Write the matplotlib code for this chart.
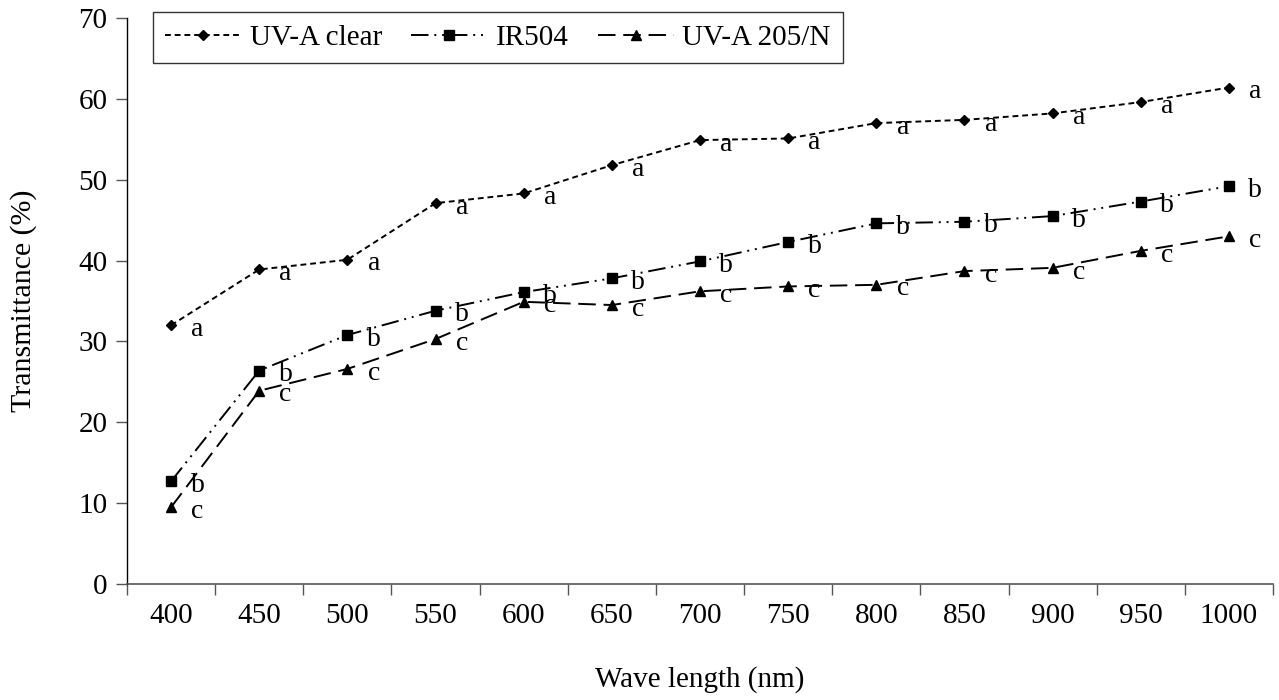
import matplotlib
matplotlib.use("Agg")
import matplotlib.pyplot as plt
from matplotlib.ticker import FixedLocator, NullFormatter

# ====== Data ======
wavelengths = ["400", "450", "500", "550", "600", "650", "700",
               "750", "800", "850", "900", "950", "1000"]

uva_clear = [32.0, 38.9, 40.1, 47.1, 48.3, 51.8, 54.9, 55.1, 57.0, 57.4, 58.2, 59.6, 61.4]
ir504 = [12.7, 26.4, 30.8, 33.8, 36.1, 37.8, 39.9, 42.3, 44.6, 44.8, 45.5, 47.3, 49.2]
uva_205n = [9.5, 23.9, 26.6, 30.3, 34.9, 34.5, 36.2, 36.8, 37.0, 38.7, 39.1, 41.2, 43.0]

letters_clear = ["a"] * 13
letters_ir = ["b"] * 13
letters_205 = ["c"] * 13

plt.rcParams["font.family"] = ["Liberation Serif", "DejaVu Serif"]

fig = plt.figure(figsize=(12.79, 7.0), dpi=100)
ax = fig.add_axes([0.0993, 0.1657, 0.8960, 0.8086])

x = list(range(len(wavelengths)))

series = [
    ("UV-A clear", uva_clear, letters_clear, dict(marker="D", markersize=5, dashes=(3, 2))),
    ("IR504", ir504, letters_ir, dict(marker="s", markersize=7, dashes=(9, 3, 1, 3, 1, 3))),
    ("UV-A 205/N", uva_205n, letters_205, dict(marker="^", markersize=7, dashes=(9, 4))),
]

for name, vals, lets, style in series:
    ax.plot(x, vals, color="black", linewidth=1.4, label=name, **style)
    for xi, v, t in zip(x, vals, lets):
        ax.annotate(t, (xi, v), xytext=(19, -3), textcoords="offset points",
                    ha="center", va="center", fontsize=20)

# axes styling
ax.set_xlim(-0.5, len(wavelengths) - 0.5)
ax.set_ylim(0, 70)
ax.set_yticks(range(0, 71, 10))
ax.set_xticks(x)
ax.set_xticklabels(wavelengths)
ax.xaxis.set_minor_locator(FixedLocator([i - 0.5 for i in range(len(wavelengths) + 1)]))
ax.xaxis.set_minor_formatter(NullFormatter())
ax.tick_params(axis="x", which="major", length=0, pad=14, labelsize=21)
ax.tick_params(axis="x", which="minor", length=8, width=1, color="#555555", direction="out")
ax.tick_params(axis="y", length=8, width=1, color="#555555", direction="out", pad=6, labelsize=21)

for side in ["top", "right"]:
    ax.spines[side].set_visible(False)
ax.spines["left"].set_linewidth(1)
ax.spines["bottom"].set_linewidth(1.2)
ax.spines["bottom"].set_color("#555555")

ax.set_ylabel("Transmittance (%)", fontsize=21.5, labelpad=30)
ax.set_xlabel("Wave length (nm)", fontsize=21, labelpad=26)

leg = ax.legend(loc="upper left", bbox_to_anchor=(0.0227, 1.01), ncol=3,
                fontsize=21, frameon=True, fancybox=False, borderaxespad=0,
                handlelength=2.6, handletextpad=0.3, columnspacing=1.0,
                borderpad=0.42)
leg.get_frame().set_edgecolor("black")
leg.get_frame().set_linewidth(1)

fig.savefig("out.png", dpi=100)
